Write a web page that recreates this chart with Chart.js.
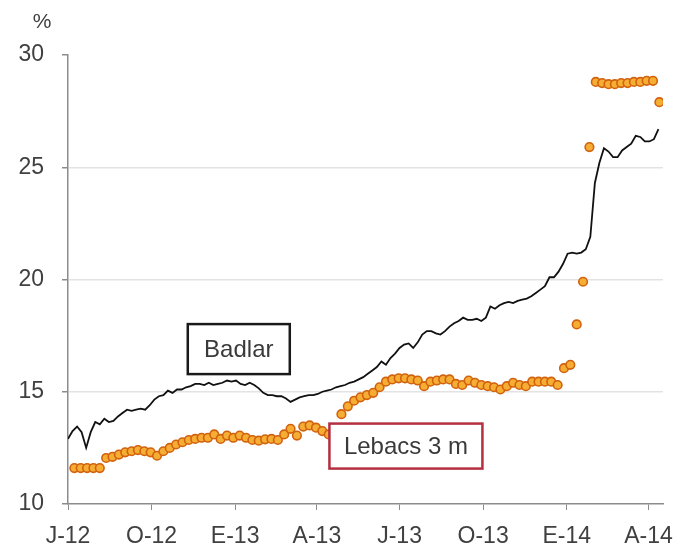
<!DOCTYPE html>
<html>
<head>
<meta charset="utf-8">
<script src="https://cdn.jsdelivr.net/npm/chart.js@4.4.1/dist/chart.umd.min.js"></script>
<style>
  body { margin: 0; background: #fff; }
  #wrap { width: 696px; height: 548px; }
</style>
</head>
<body>
<div id="wrap"><canvas id="chart" width="696" height="548"></canvas></div>
<script>
// x axis: days since 1 Jul 2012
const tickLabels = ["J-12", "O-12", "E-13", "A-13", "J-13", "O-13", "E-14", "A-14"];
const tickDays = [0, 92, 184, 274, 365, 457, 549, 639];
const yTicks = [10, 15, 20, 25, 30];

// Badlar, read every 5 days
const badlarValues = [
  12.9, 13.25, 13.45, 13.2, 12.5, 13.2, 13.65, 13.55, 13.8, 13.65,
  13.7, 13.9, 14.05, 14.2, 14.15, 14.2, 14.25, 14.2, 14.4, 14.65,
  14.8, 14.85, 15.05, 14.95, 15.1, 15.1, 15.2, 15.25, 15.35, 15.35,
  15.3, 15.4, 15.3, 15.35, 15.4, 15.5, 15.45, 15.5, 15.35, 15.3,
  15.4, 15.3, 15.15, 14.95, 14.85, 14.85, 14.8, 14.8, 14.7, 14.55,
  14.65, 14.75, 14.8, 14.85, 14.85, 14.9, 15.0, 15.05, 15.1, 15.2,
  15.25, 15.3, 15.4, 15.45, 15.55, 15.65, 15.8, 15.95, 16.1, 16.35,
  16.2, 16.5, 16.7, 16.95, 17.1, 17.15, 16.95, 17.2, 17.55, 17.7,
  17.7, 17.6, 17.55, 17.7, 17.9, 18.05, 18.15, 18.3, 18.2, 18.2,
  18.25, 18.15, 18.3, 18.8, 18.7, 18.85, 18.95, 19.0, 18.95, 19.05,
  19.1, 19.15, 19.25, 19.4, 19.55, 19.7, 20.1, 20.1, 20.35, 20.7,
  21.15, 21.2, 21.15, 21.2, 21.35, 21.9, 24.3, 25.2, 25.85, 25.7,
  25.45, 25.45, 25.75, 25.9, 26.05, 26.4, 26.35, 26.15, 26.15, 26.25,
  26.7
];
const badlarDays = badlarValues.map((v, i) => i * 5);

// Lebacs 3 m, weekly auctions from 8 Jul 2012
const lebacsValues = [
  11.6, 11.6, 11.6, 11.6, 11.6, 12.05, 12.1, 12.2, 12.3, 12.35,
  12.4, 12.35, 12.3, 12.15, 12.35, 12.5, 12.65, 12.75, 12.85, 12.9,
  12.95, 12.95, 13.1, 12.9, 13.05, 12.95, 13.05, 12.95, 12.85, 12.82,
  12.88, 12.9, 12.85, 13.1, 13.35, 13.05, 13.45, 13.5, 13.4, 13.25,
  13.1, 13.3, 14.0, 14.35, 14.6, 14.75, 14.85, 14.95, 15.2, 15.45,
  15.55, 15.6, 15.6, 15.55, 15.5, 15.25, 15.45, 15.5, 15.55, 15.55,
  15.35, 15.3, 15.5, 15.4, 15.3, 15.25, 15.2, 15.1, 15.25, 15.4,
  15.3, 15.25, 15.45, 15.45, 15.45, 15.45, 15.3, 16.05, 16.2, 18.0,
  19.9, 25.9, 28.8, 28.75, 28.7, 28.7, 28.75, 28.75, 28.8, 28.8,
  28.85, 28.85, 27.9
];
const lebacsDays = lebacsValues.map((v, i) => 7 + i * 7);

const labelFont = '"Liberation Sans", Arial, sans-serif';

const boxLabels = {
  id: "boxLabels",
  afterDatasetsDraw(chart) {
    const { ctx, scales } = chart;
    const drawBox = (text, day, val, w, h, color) => {
      const cx = scales.x.getPixelForValue(day);
      const cy = scales.y.getPixelForValue(val);
      ctx.save();
      ctx.fillStyle = "#fff";
      ctx.fillRect(cx - w / 2, cy - h / 2, w, h);
      ctx.lineWidth = 2.5;
      ctx.strokeStyle = color;
      ctx.strokeRect(cx - w / 2, cy - h / 2, w, h);
      ctx.fillStyle = "#3a3a3a";
      ctx.font = "24px " + labelFont;
      ctx.textAlign = "center";
      ctx.textBaseline = "middle";
      ctx.fillText(text, cx, cy + 1);
      ctx.restore();
    };
    drawBox("Badlar", 188, 16.9, 102, 50, "#1a1a1a");
    drawBox("Lebacs 3 m", 372, 12.58, 153, 45, "#b5303f");

    ctx.save();
    ctx.fillStyle = "#404040";
    ctx.font = "21px " + labelFont;
    ctx.textAlign = "center";
    ctx.textBaseline = "middle";
    ctx.fillText("%", 42, 22);
    ctx.restore();
  }
};

new Chart(document.getElementById("chart"), {
  type: "line",
  data: {
    datasets: [
      {
        label: "Lebacs 3 m",
        data: lebacsDays.map((d, i) => ({ x: d, y: lebacsValues[i] })),
        showLine: false,
        pointRadius: 4.3,
        pointBackgroundColor: "#f5ad34",
        pointBorderColor: "#d2620e",
        pointBorderWidth: 1.6
      },
      {
        label: "Badlar",
        data: badlarDays.map((d, i) => ({ x: d, y: badlarValues[i] })),
        borderColor: "#111111",
        borderWidth: 1.8,
        pointRadius: 0,
        tension: 0
      }
    ]
  },
  options: {
    responsive: false,
    animation: false,
    layout: { padding: { top: 55, right: 33, left: 0, bottom: 0 } },
    plugins: {
      legend: { display: false },
      tooltip: { enabled: false }
    },
    scales: {
      x: {
        type: "linear",
        min: 0,
        max: 655,
        afterBuildTicks: (s) => { s.ticks = tickDays.map((v) => ({ value: v })); },
        afterFit: (s) => { s.height = 44; },
        border: { color: "#8c8c8c", width: 1.5 },
        grid: { drawOnChartArea: false, tickLength: 6, tickColor: "#8c8c8c" },
        ticks: {
          autoSkip: false,
          maxRotation: 0,
          padding: 13,
          color: "#404040",
          font: { family: labelFont, size: 23 },
          callback: (v) => tickLabels[tickDays.indexOf(v)]
        }
      },
      y: {
        min: 10,
        max: 30,
        afterBuildTicks: (s) => { s.ticks = yTicks.map((v) => ({ value: v })); },
        afterFit: (s) => { s.width = 68; },
        border: { color: "#8c8c8c", width: 1.5 },
        grid: {
          color: (c) => (c.tick && c.tick.value > 10 && c.tick.value < 30) ? "#e3e3e3" : "rgba(0,0,0,0)",
          lineWidth: 1.5,
          tickLength: 6,
          tickColor: "#8c8c8c"
        },
        ticks: {
          padding: 18,
          color: "#404040",
          font: { family: labelFont, size: 23 }
        }
      }
    }
  },
  plugins: [boxLabels]
});
</script>
</body>
</html>
